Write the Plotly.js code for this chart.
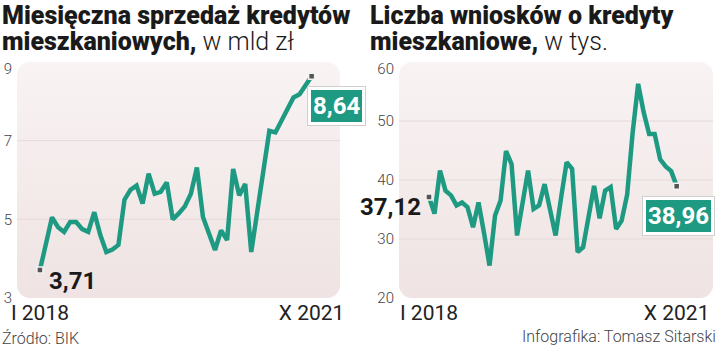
<!DOCTYPE html>
<html>
<head>
<meta charset="utf-8">
<script src="https://cdn.plot.ly/plotly-3.0.1.min.js"></script>
<style>html,body{margin:0;padding:0;background:#fff;}#chart{width:720px;height:356px;}</style>
</head>
<body>
<div id="chart"></div>
<script>
const months = [
  "I 2018","II 2018","III 2018","IV 2018","V 2018","VI 2018","VII 2018","VIII 2018","IX 2018","X 2018","XI 2018","XII 2018",
  "I 2019","II 2019","III 2019","IV 2019","V 2019","VI 2019","VII 2019","VIII 2019","IX 2019","X 2019","XI 2019","XII 2019",
  "I 2020","II 2020","III 2020","IV 2020","V 2020","VI 2020","VII 2020","VIII 2020","IX 2020","X 2020","XI 2020","XII 2020",
  "I 2021","II 2021","III 2021","IV 2021","V 2021","VI 2021","VII 2021","VIII 2021","IX 2021","X 2021"
];
// Monthly sales of mortgage loans, bn PLN
const sales = [3.71,4.40,5.05,4.80,4.68,4.93,4.93,4.75,4.68,5.18,4.60,4.17,
  4.23,4.35,5.50,5.75,5.86,5.40,6.16,5.65,5.70,5.94,5.00,5.15,
  5.33,5.65,6.32,5.06,4.60,4.22,4.72,4.47,6.28,5.61,5.90,4.17,
  5.20,6.20,7.25,7.21,7.50,7.75,8.10,8.18,8.40,8.64];
// Number of mortgage applications, thousands
const applications = [37.12,34.3,41.6,38.2,37.4,35.7,36.2,35.4,32.0,36.2,31.0,25.5,
  34.0,36.5,44.9,42.7,30.6,36.0,41.6,35.1,35.7,39.3,35.0,30.6,
  37.0,43.0,41.9,27.8,28.6,34.0,39.0,33.5,38.2,38.8,31.7,33.1,
  37.5,48.0,56.3,51.5,47.8,47.8,43.5,42.3,41.5,38.96];
const salesTicks = [3,5,7];
const salesTopTick = [9];
const appTicks = [20,30,40,50];
const appTopTick = [60];
const xTickText = ["I 2018","X 2021"];
const salesLabels = ["3,71","8,64"];
const appLabels = ["37,12","38,96"];
const titles = ["Miesięczna sprzedaż kredytów", "<b>mieszkaniowych,</b> w mld zł",
                "Liczba wniosków o kredyty", "<b>mieszkaniowe,</b> w tys."];
const sourceText = "Źródło: BIK";
const creditText = "Infografika: Tomasz Sitarski";

const TEAL = '#1f9a82';
const FONT = 'Roboto, "Liberation Sans", sans-serif';
const W = 720, H = 356;
const last = months.length - 1;

function bgImage(w, h) {
  const svg = `<svg xmlns="http://www.w3.org/2000/svg" width="${w}" height="${h}" viewBox="0 0 ${w} ${h}" preserveAspectRatio="none">` +
    `<defs><linearGradient id="g" x1="0" y1="0" x2="0" y2="1"><stop offset="0" stop-color="#f9f3f3"/><stop offset="1" stop-color="#efe3e3"/></linearGradient></defs>` +
    `<rect x="0" y="0" width="${w}" height="${h}" rx="13" ry="13" fill="url(#g)"/></svg>`;
  return 'data:image/svg+xml;base64,' + btoa(unescape(encodeURIComponent(svg)));
}

const L = {x0: 17, x1: 340}, R = {x0: 399, x1: 713};
const yTop = 62, yBot = 298;
const yDom = [1 - yBot / H, 1 - yTop / H];

const endMarker = {symbol: 'square', size: 6, color: '#555', line: {color: '#f2f2f2', width: 1.5}};
const traces = [
  {x: months, y: sales, xaxis: 'x', yaxis: 'y', mode: 'lines', line: {color: TEAL, width: 4.5}, hoverinfo: 'skip'},
  {x: [months[0], months[last]], y: [sales[0], sales[last]], xaxis: 'x', yaxis: 'y3', mode: 'markers',
   marker: endMarker, hoverinfo: 'skip'},
  {x: months, y: applications, xaxis: 'x2', yaxis: 'y2', mode: 'lines', line: {color: TEAL, width: 4.5}, hoverinfo: 'skip'},
  {x: [months[0], months[last]], y: [applications[0], applications[last]], xaxis: 'x2', yaxis: 'y4', mode: 'markers',
   marker: endMarker, hoverinfo: 'skip'}
];

function gridShapes(xref, yref, vals) {
  return vals.map(v => ({type: 'line', xref: xref + ' domain', yref: yref, x0: 0, x1: 1, y0: v, y1: v,
    line: {color: '#e7d9d9', width: 1}, layer: 'below'}));
}

const xCommon = {type: 'category', showgrid: false, zeroline: false, showline: false, ticks: '',
  tickfont: {family: FONT, size: 21, color: '#222', weight: 400}, fixedrange: true};
const yCommon = {showgrid: false, zeroline: false, showline: false, ticks: '',
  tickfont: {family: FONT, size: 15, color: '#444', weight: 300}, fixedrange: true, ticklabelstandoff: 4};

function boxAnn(xref, yref, x, y, text, xs, ys) {
  return [
    {xref, yref, x, y, text: text, showarrow: false, xshift: xs, yshift: ys,
     font: {family: FONT, size: 24, color: 'rgba(0,0,0,0)', weight: 700},
     bgcolor: '#ffffff', bordercolor: '#cfcfcf', borderwidth: 1, borderpad: 5},
    {xref, yref, x, y, text: text, showarrow: false, xshift: xs, yshift: ys,
     font: {family: FONT, size: 24, color: '#ffffff', weight: 700},
     bgcolor: TEAL, bordercolor: '#ffffff', borderwidth: 2, borderpad: 2}
  ];
}

const TITLE_SIZE = 25;
const layout = {
  width: W, height: H,
  margin: {l: 0, r: 0, t: 0, b: 0},
  paper_bgcolor: '#ffffff', plot_bgcolor: 'rgba(0,0,0,0)',
  showlegend: false,
  xaxis: Object.assign({}, xCommon, {domain: [L.x0 / W, L.x1 / W], anchor: 'y', range: [-3.8, 49.7],
    tickvals: [months[0], months[last]], ticktext: xTickText}),
  yaxis: Object.assign({}, yCommon, {domain: yDom, anchor: 'x', range: [3, 9], tickvals: salesTicks}),
  yaxis3: Object.assign({}, yCommon, {domain: yDom, anchor: 'x', overlaying: 'y', range: [3, 9], tickvals: salesTopTick, ticklabelshift: 7}),
  xaxis2: Object.assign({}, xCommon, {domain: [R.x0 / W, R.x1 / W], anchor: 'y2', range: [-5.45, 51.6],
    tickvals: [months[0], months[last]], ticktext: xTickText}),
  yaxis2: Object.assign({}, yCommon, {domain: yDom, anchor: 'x2', range: [20, 60], tickvals: appTicks}),
  yaxis4: Object.assign({}, yCommon, {domain: yDom, anchor: 'x2', overlaying: 'y2', range: [20, 60], tickvals: appTopTick, ticklabelshift: 7}),
  images: [
    {source: bgImage(L.x1 - L.x0, yBot - yTop), xref: 'paper', yref: 'paper', x: L.x0 / W, y: 1 - yTop / H,
     sizex: (L.x1 - L.x0) / W, sizey: (yBot - yTop) / H, xanchor: 'left', yanchor: 'top', sizing: 'stretch', layer: 'below'},
    {source: bgImage(R.x1 - R.x0, yBot - yTop), xref: 'paper', yref: 'paper', x: R.x0 / W, y: 1 - yTop / H,
     sizex: (R.x1 - R.x0) / W, sizey: (yBot - yTop) / H, xanchor: 'left', yanchor: 'top', sizing: 'stretch', layer: 'below'}
  ],
  shapes: [].concat(gridShapes('x', 'y', [5, 7]), gridShapes('x2', 'y2', [30, 40, 50])),
  annotations: [
    {xref: 'paper', yref: 'paper', x: 0, y: 1 - 15.5 / H, xanchor: 'left', yanchor: 'middle', showarrow: false,
     text: titles[0], font: {family: FONT, size: TITLE_SIZE, color: '#1a1a1a', weight: 900}},
    {xref: 'paper', yref: 'paper', x: 0, y: 1 - 41.5 / H, xanchor: 'left', yanchor: 'middle', showarrow: false,
     text: titles[1].replace('<b>', '<span style="font-weight:900">').replace('</b>', '</span>'),
     font: {family: FONT, size: TITLE_SIZE, color: '#1a1a1a', weight: 300}},
    {xref: 'paper', yref: 'paper', x: 368 / W, y: 1 - 15.5 / H, xanchor: 'left', yanchor: 'middle', showarrow: false,
     text: titles[2], font: {family: FONT, size: TITLE_SIZE, color: '#1a1a1a', weight: 900}},
    {xref: 'paper', yref: 'paper', x: 368 / W, y: 1 - 41.5 / H, xanchor: 'left', yanchor: 'middle', showarrow: false,
     text: titles[3].replace('<b>', '<span style="font-weight:900">').replace('</b>', '</span>'),
     font: {family: FONT, size: TITLE_SIZE, color: '#1a1a1a', weight: 300}},
    {xref: 'paper', yref: 'paper', x: 0, y: 1 - 338 / H, xanchor: 'left', yanchor: 'middle', showarrow: false,
     text: sourceText, font: {family: FONT, size: 16, color: '#444', weight: 300}},
    {xref: 'paper', yref: 'paper', x: 718 / W, y: 1 - 336 / H, xanchor: 'right', yanchor: 'middle', showarrow: false,
     text: creditText, font: {family: FONT, size: 16, color: '#444', weight: 300}},
    {xref: 'x', yref: 'y', x: months[0], y: sales[0], xanchor: 'left', yanchor: 'middle', showarrow: false,
     xshift: 7, yshift: -11, text: salesLabels[0], font: {family: FONT, size: 24, color: '#1a1a1a', weight: 700}},
    {xref: 'x2', yref: 'y2', x: months[0], y: applications[0], xanchor: 'right', yanchor: 'middle', showarrow: false,
     xshift: -6, yshift: -10, text: appLabels[0], font: {family: FONT, size: 24, color: '#1a1a1a', weight: 700}}
  ].concat(boxAnn('x', 'y', months[last], sales[last], salesLabels[1], 25, -30),
           boxAnn('x2', 'y2', months[last], applications[last], appLabels[1], 1.5, -29.5))
};

Plotly.newPlot('chart', traces, layout, {displayModeBar: false, staticPlot: true});
</script>
</body>
</html>
